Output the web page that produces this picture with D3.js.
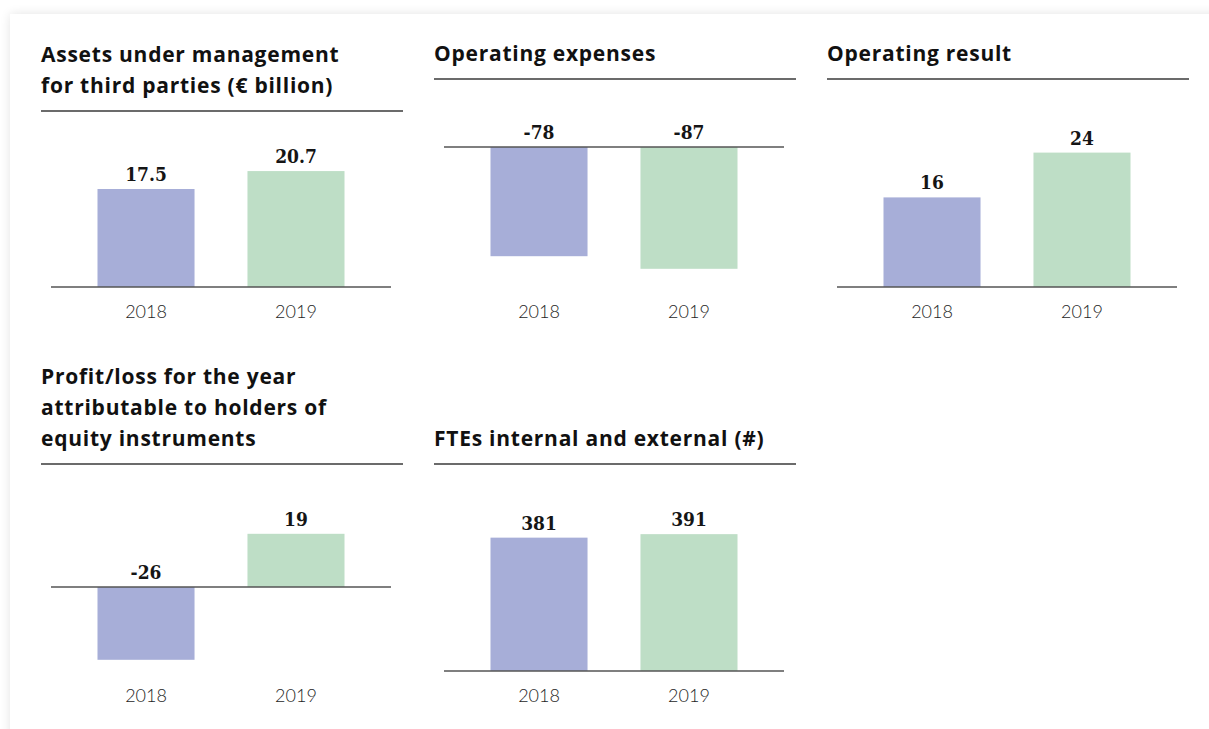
<!DOCTYPE html>
<html>
<head>
<meta charset="utf-8">
<script src="https://cdn.jsdelivr.net/npm/d3@7/dist/d3.min.js"></script>
<style>
  html, body { margin: 0; padding: 0; background: #fff; overflow: hidden; }
  .card {
    position: absolute; left: 10px; top: 14px; width: 1400px; height: 900px;
    background: #fff; box-shadow: 0 0 10px rgba(0,0,0,0.11);
  }
  svg { position: absolute; left: 0; top: 0; }
  .title { font-family: "Open Sans", Lato, sans-serif; font-weight: 700; font-size: 21px; letter-spacing: 0.75px; fill: #111; }
  .year { font-family: Lato, "Noto Sans", sans-serif; font-weight: 300; font-size: 18px; fill: #1e1e1e; }
  .value { font-family: "DejaVu Serif Condensed", "DejaVu Serif", serif; font-weight: 700; font-size: 19px; fill: #151515; }
</style>
</head>
<body>
<div class="card"></div>
<svg id="chart" width="1209" height="729"></svg>
<script>
// Years shown on every panel
const years = ["2018", "2019"];

// Panel titles (one entry per line)
const titleAssets = ["Assets under management", "for third parties (€ billion)"];
const titleExpenses = ["Operating expenses"];
const titleResult = ["Operating result"];
const titleProfit = ["Profit/loss for the year", "attributable to holders of", "equity instruments"];
const titleFte = ["FTEs internal and external (#)"];

// Values per panel, 2018 then 2019
const assetsValues = [17.5, 20.7];
const expensesValues = [-78, -87];
const resultValues = [16, 24];
const profitValues = [-26, 19];
const fteValues = [381, 391];

// Value domains per panel
const assetsDomain = [0, 25];
const expensesDomain = [-100, 0];
const resultDomain = [0, 25];
const profitDomain = [-30, 20];
const fteDomain = [0, 400];

const yearColors = ["#a7aed8", "#bedec6"];

const panels = [
  { title: titleAssets, values: assetsValues, domain: assetsDomain, col: 0, row: 0 },
  { title: titleExpenses, values: expensesValues, domain: expensesDomain, col: 1, row: 0 },
  { title: titleResult, values: resultValues, domain: resultDomain, col: 2, row: 0 },
  { title: titleProfit, values: profitValues, domain: profitDomain, col: 0, row: 1 },
  { title: titleFte, values: fteValues, domain: fteDomain, col: 1, row: 1 }
];

const colX = [41, 434, 827];
const panelW = 362;
const rows = [
  { rule: 111, top: 147, bottom: 287 },
  { rule: 464, top: 531, bottom: 671 }
];
const lineH = 31;

const svg = d3.select("#chart");

panels.forEach(p => {
  const x0 = colX[p.col];
  const r = rows[p.row];
  // Row 1 rule sits at 111 for a two-line title, 79 for a single line
  const rule = p.row === 0 ? (p.title.length > 1 ? 111 : 79) : r.rule;
  const g = svg.append("g");

  // Title, bottom line sits 18px above the rule
  const lastBase = rule - 18;
  g.selectAll("text.title").data(p.title).join("text")
    .attr("class", "title")
    .attr("x", x0)
    .attr("y", (d, i) => lastBase - (p.title.length - 1 - i) * lineH)
    .text(d => d);

  g.append("line")
    .attr("x1", x0).attr("x2", x0 + panelW)
    .attr("y1", rule).attr("y2", rule)
    .attr("stroke", "#3a3a3a").attr("stroke-width", 1.6);

  const x = d3.scaleBand().domain(years)
    .range([x0 + 10, x0 + 350])
    .paddingInner(0.353).paddingOuter(0.31);
  const y = d3.scaleLinear().domain(p.domain).range([r.bottom, r.top]);

  const data = years.map((yr, i) => ({ year: yr, value: p.values[i], color: yearColors[i] }));

  g.selectAll("rect").data(data).join("rect")
    .attr("x", d => x(d.year))
    .attr("width", x.bandwidth())
    .attr("y", d => Math.min(y(d.value), y(0)))
    .attr("height", d => Math.abs(y(d.value) - y(0)))
    .attr("fill", d => d.color);

  // Zero line
  g.append("line")
    .attr("x1", x0 + 10).attr("x2", x0 + 350)
    .attr("y1", y(0)).attr("y2", y(0))
    .attr("stroke", "#555").attr("stroke-width", 1.5);

  // Value labels above the bar (or above the zero line for negatives)
  g.selectAll("text.value").data(data).join("text")
    .attr("class", "value")
    .attr("text-anchor", "middle")
    .attr("x", d => x(d.year) + x.bandwidth() / 2)
    .attr("y", d => Math.min(y(d.value), y(0)) - 8)
    .text(d => d.value);

  // Year labels under the plot area
  g.selectAll("text.year").data(data).join("text")
    .attr("class", "year")
    .attr("text-anchor", "middle")
    .attr("x", d => x(d.year) + x.bandwidth() / 2)
    .attr("y", r.bottom + 31)
    .text(d => d.year);
});
</script>
</body>
</html>
